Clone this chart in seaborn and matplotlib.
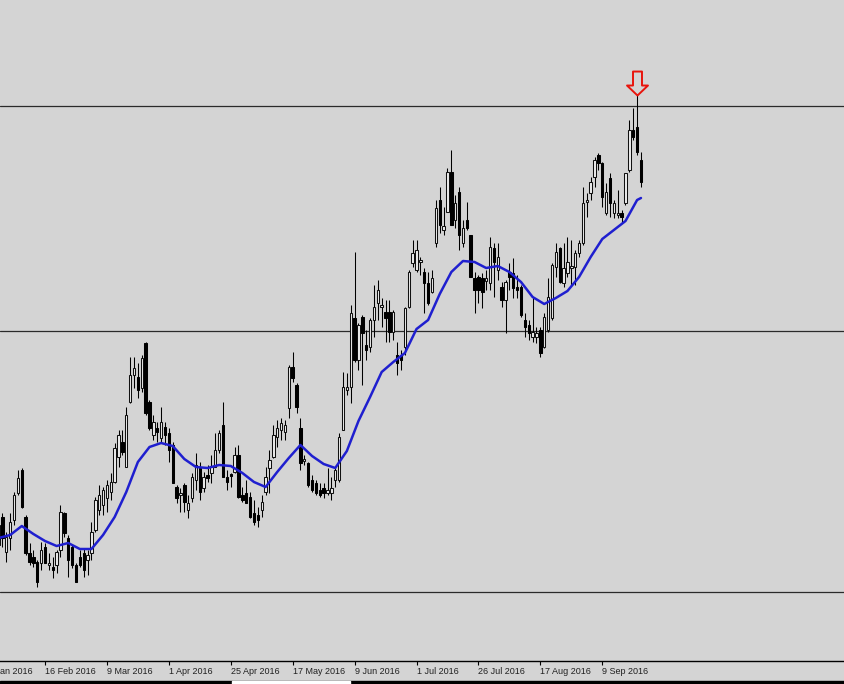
import numpy as np
import pandas as pd
import matplotlib
matplotlib.use('Agg')
import matplotlib.pyplot as plt
from matplotlib.path import Path
from matplotlib.patches import Rectangle
import seaborn as sns

# trading calendar (US market holidays removed)
holidays = ['2016-02-15', '2016-03-25', '2016-05-30', '2016-07-04', '2016-09-05']
days = pd.bdate_range('2016-01-22', '2016-09-23', freq='C', holidays=holidays)
first_bar = '2016-01-28'

opens = [155, 183, 148, 162, 180, 207, 230, 183, 147, 143,
         138, 137, 153, 135, 133, 135, 150, 187, 162, 153,
         135, 143, 147, 140, 147, 170, 190, 195, 202, 208,
         218, 243, 258, 233, 298, 325, 323, 312, 357, 298,
         265, 272, 262, 273, 267, 255, 213, 205, 215, 190,
         202, 220, 232, 212, 225, 227, 233, 250, 275, 223,
         226, 228, 245, 205, 207, 203, 187, 185, 190, 208,
         232, 243, 263, 270, 268, 292, 333, 315, 272, 239,
         237, 220, 217, 210, 212, 207, 207, 220, 220, 270,
         310, 313, 382, 340, 383, 355, 353, 380, 397, 393,
         388, 388, 368, 345, 345, 353, 393, 437, 430, 438,
         428, 417, 408, 457, 500, 470, 488, 528, 480, 508,
         457, 480, 465, 422, 423, 422, 419, 417, 452, 430,
         413, 400, 428, 427, 413, 413, 380, 375, 363, 363,
         370, 353, 370, 382, 433, 452, 417, 427, 432, 433,
         447, 457, 498, 507, 523, 545, 537, 487, 522, 487,
         485, 487, 497, 530, 570, 573, 540]
highs = [182, 187, 168, 187, 208, 230, 232, 185, 157, 150,
         140, 158, 157, 147, 143, 150, 195, 188, 165, 155,
         137, 150, 152, 150, 178, 203, 215, 213, 220, 227,
         257, 270, 270, 293, 343, 343, 337, 345, 358, 300,
         285, 278, 293, 278, 272, 258, 215, 212, 217, 205,
         227, 247, 238, 228, 235, 245, 267, 270, 298, 230,
         227, 253, 255, 213, 220, 208, 200, 193, 205, 233,
         250, 275, 280, 282, 280, 335, 348, 317, 282, 245,
         238, 225, 220, 217, 217, 232, 223, 233, 267, 328,
         327, 395, 448, 377, 385, 370, 382, 415, 420, 402,
         400, 400, 390, 358, 350, 393, 430, 460, 460, 443,
         432, 428, 430, 500, 513, 493, 532, 550, 505, 513,
         480, 498, 465, 428, 425, 427, 430, 463, 457, 457,
         418, 420, 437, 442, 425, 415, 387, 380, 403, 373,
         373, 387, 422, 437, 457, 453, 457, 463, 460, 450,
         460, 513, 507, 523, 543, 547, 538, 517, 527, 500,
         510, 490, 527, 580, 592, 605, 548]
lows = [152, 153, 138, 150, 175, 205, 192, 145, 135, 133,
        113, 130, 137, 130, 122, 127, 143, 163, 123, 132,
        118, 133, 123, 125, 140, 168, 185, 185, 188, 200,
        217, 233, 245, 233, 297, 312, 302, 308, 285, 270,
        260, 258, 258, 255, 238, 217, 197, 188, 188, 182,
        198, 210, 200, 208, 218, 217, 233, 247, 223, 210,
        213, 227, 202, 198, 197, 182, 175, 173, 183, 205,
        207, 242, 253, 260, 260, 282, 318, 287, 230, 235,
        213, 208, 205, 203, 202, 205, 200, 213, 218, 270,
        305, 297, 338, 330, 315, 340, 348, 363, 380, 373,
        358, 358, 360, 325, 330, 345, 392, 433, 428, 425,
        387, 395, 407, 453, 467, 465, 488, 475, 472, 450,
        453, 470, 423, 387, 397, 392, 410, 410, 403, 420,
        393, 367, 410, 402, 402, 383, 363, 360, 358, 357,
        343, 352, 368, 380, 423, 417, 413, 423, 415, 415,
        443, 455, 483, 500, 513, 530, 493, 485, 483, 482,
        482, 477, 495, 528, 560, 545, 513]
closes = [175, 162, 163, 178, 205, 222, 193, 147, 138, 137,
          118, 150, 137, 137, 130, 148, 188, 167, 140, 135,
          118, 135, 130, 145, 168, 200, 205, 210, 215, 218,
          252, 265, 248, 285, 325, 332, 310, 342, 287, 272,
          278, 268, 278, 265, 250, 217, 202, 207, 198, 197,
          223, 235, 208, 223, 222, 233, 250, 267, 223, 218,
          224, 245, 203, 200, 197, 183, 178, 180, 198, 223,
          240, 265, 272, 277, 275, 333, 322, 293, 237, 241,
          215, 210, 207, 205, 207, 210, 212, 230, 263, 313,
          313, 387, 340, 375, 367, 350, 380, 393, 410, 395,
          382, 368, 388, 337, 340, 392, 428, 447, 450, 440,
          417, 397, 422, 492, 475, 474, 528, 475, 497, 465,
          472, 472, 423, 410, 410, 408, 422, 453, 438, 443,
          400, 418, 423, 412, 410, 385, 373, 367, 368, 367,
          347, 383, 403, 435, 448, 418, 432, 438, 434, 447,
          457, 497, 500, 518, 540, 537, 503, 508, 497, 497,
          487, 483, 527, 570, 563, 548, 518]

# moving average, read every third bar plus the last one
ma_values = [162, 165, 174, 166, 159, 154, 157, 151, 151, 165,
             183, 208, 238, 253, 257, 254, 241, 233, 232, 235,
             234, 227, 218, 213, 228, 242, 255, 244, 236, 232,
             249, 279, 303, 328, 338, 347, 371, 380, 406, 428,
             439, 438, 432, 434, 428, 418, 403, 396, 402, 409,
             423, 443, 461, 470, 479, 500, 502]

levels = [594, 369, 108]

tick_dates = ['2016-01-22', '2016-02-16', '2016-03-09', '2016-04-01', '2016-04-25',
              '2016-05-17', '2016-06-09', '2016-07-01', '2016-07-26', '2016-08-17',
              '2016-09-09']
tick_labels = ['22 Jan 2016', '16 Feb 2016', '9 Mar 2016', '1 Apr 2016', '25 Apr 2016',
               '17 May 2016', '9 Jun 2016', '1 Jul 2016', '26 Jul 2016', '17 Aug 2016',
               '9 Sep 2016']

bg = '#d4d4d4'
sns.set_style('ticks', {'axes.facecolor': bg, 'figure.facecolor': bg})
plt.rcParams['font.family'] = ['Liberation Sans', 'DejaVu Sans']

start = days.get_loc(pd.Timestamp(first_bar))
df = pd.DataFrame({'date': days[start:], 'open': opens, 'high': highs,
                   'low': lows, 'close': closes})
df['pos'] = np.arange(start, len(days))
up = df['close'] >= df['open']

ma_pos = list(df['pos'][::3]) + [df['pos'].iloc[-1]]

fig = plt.figure(figsize=(8.45, 6.84), dpi=100)
ax = fig.add_axes([0, 23 / 684, 1, 661 / 684])

for lv in levels:
    ax.axhline(lv, color='#2a2a2a', lw=0.9, zorder=1)

ax.vlines(df['pos'], df['low'], df['high'], color='black', lw=0.75, zorder=2)
ax.bar(df['pos'][up], (df['close'] - df['open'])[up], bottom=df['open'][up],
       width=0.62, color='#ececec', edgecolor='#111111', lw=0.75, zorder=3)
ax.bar(df['pos'][~up], (df['open'] - df['close'])[~up], bottom=df['close'][~up],
       width=0.62, color='black', edgecolor='black', lw=0.75, zorder=3)

sns.lineplot(x=ma_pos, y=ma_values, color='#1f1fcf', lw=1.8, ax=ax, zorder=4)

# red hollow arrow pointing at the highest high
arrow = Path([(-4.5, 24), (4.5, 24), (4.5, 10), (10.5, 10), (0, 0),
              (-10.5, 10), (-4.5, 10), (-4.5, 24)], closed=True)
top = df['high'].idxmax()
ax.plot(df['pos'][top], df['high'][top], marker=arrow, markersize=34.5,
        markerfacecolor='none', markeredgecolor='#e8140c', markeredgewidth=1.4,
        zorder=5)

tick_pos = days.get_indexer(pd.to_datetime(tick_dates))
ax.set_xticks(tick_pos[1:])
ax.set_xticklabels(tick_labels[1:], ha='left', fontsize=6.5, color='#202020')
ax.tick_params(axis='x', length=3, width=0.8, pad=1.5, color='black')
ax.set_yticks([])
for s in ['left', 'right', 'top']:
    ax.spines[s].set_visible(False)
ax.spines['bottom'].set_color('black')
ax.spines['bottom'].set_linewidth(1.0)

# first label sits left of the view, only its tail shows
ax.annotate(tick_labels[0], xy=(tick_pos[0], 0), xycoords=('data', 'axes fraction'),
            xytext=(0, -4.5), textcoords='offset points', ha='left', va='top',
            fontsize=6.5, color='#202020', annotation_clip=False)

ax.set_xlim(4.372, 222.72)
ax.set_ylim(39, 700)

# bottom tab strip
fig.patches.append(Rectangle((0, 0), 1, 3 / 684, transform=fig.transFigure,
                             color='black', zorder=0))
fig.patches.append(Rectangle((232 / 845, 0), 118 / 845, 3 / 684,
                             transform=fig.transFigure, color='white', zorder=1))

fig.savefig('out.png', dpi=100, facecolor=bg)
